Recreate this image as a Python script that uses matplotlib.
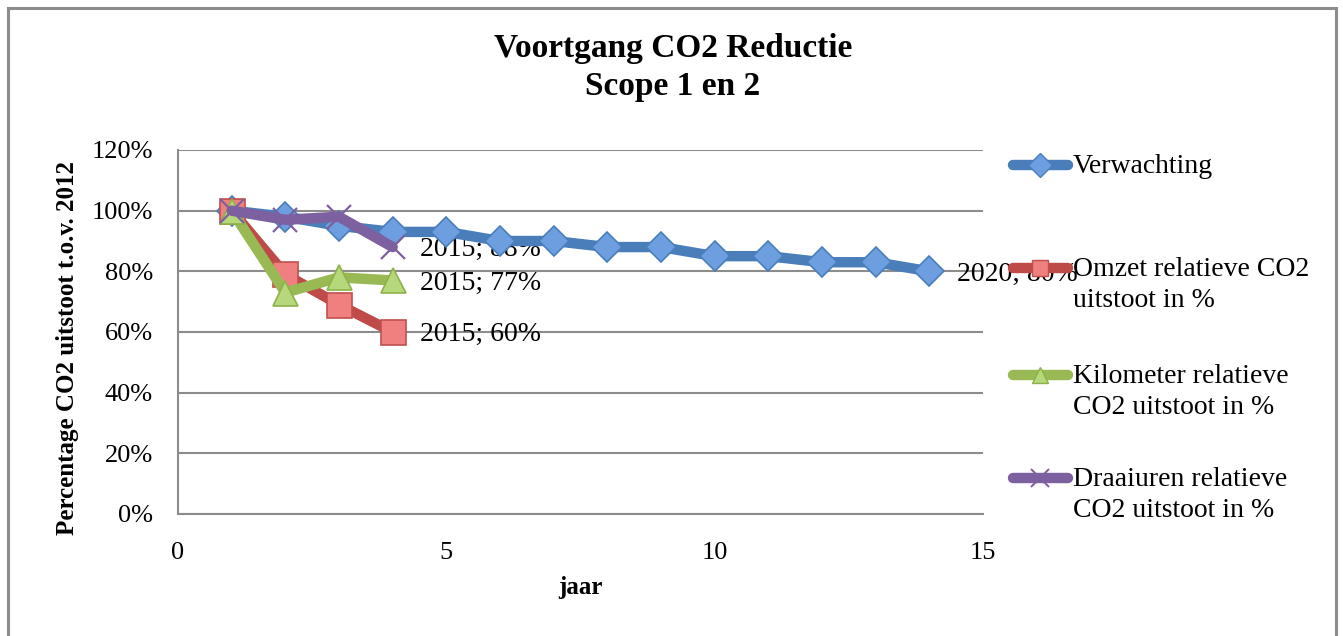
import matplotlib.pyplot as plt
import numpy as np
from matplotlib.lines import Line2D
from matplotlib.patches import Rectangle

# jaar index (1 = 2012)
x_verw = np.arange(1, 15)
verwachting = [100, 98, 95, 93, 93, 90, 90, 88, 88, 85, 85, 83, 83, 80]
x_kort = np.arange(1, 5)
omzet = [100, 79, 69, 60]
kilometer = [100, 73, 78, 77]
draaiuren = [100, 97, 98, 88]
eind_jaar = [2020, 2015, 2015, 2015]

labels = ['Verwachting', 'Omzet relatieve CO2\nuitstoot in %',
          'Kilometer relatieve\nCO2 uitstoot in %', 'Draaiuren relatieve\nCO2 uitstoot in %']

plt.rcParams['font.family'] = ['Liberation Serif', 'DejaVu Serif']

W, H = 1343, 636
fig = plt.figure(figsize=(W / 100, H / 100), dpi=100)
ax = fig.add_axes([178 / W, 1 - 514 / H, 805 / W, 364 / H])

# border around the chart
fig.add_artist(Rectangle((8 / W, -0.05), 1328 / W, 1.05 - 8 / H, transform=fig.transFigure,
                         fill=False, edgecolor='#8c8c8c', linewidth=2.2))

series = [
    (x_verw, verwachting, '#4a7ebb', 'D', '#6d9fe0', '#4a7ebb', 15),
    (x_kort, omzet, '#be4b48', 's', '#f08080', '#c0504d', 18),
    (x_kort, kilometer, '#98b954', '^', '#b6d77a', '#8db24a', 18),
    (x_kort, draaiuren, '#7d60a0', 'x', '#7d60a0', '#7d60a0', 17),
]
for xs, ys, col, mk, fc, ec, ms in series:
    if mk == 'x':
        ax.plot(xs, ys, color=col, linewidth=7.5, marker=mk, markersize=ms,
                markeredgewidth=1.6, solid_capstyle='round', zorder=3)
    else:
        ax.plot(xs, ys, color=col, linewidth=7.5, marker=mk, markersize=ms,
                markerfacecolor=fc, markeredgecolor=ec, markeredgewidth=1.2,
                solid_capstyle='round', zorder=3)

ax.set_xlim(0, 15)
ax.set_ylim(0, 120)
ax.set_xticks([0, 5, 10, 15])
ax.set_yticks(np.arange(0, 121, 20))
ax.set_yticklabels([f'{v}%' for v in range(0, 121, 20)])
ax.tick_params(length=0, labelsize=19)
ax.tick_params(axis='x', pad=20)
ax.tick_params(axis='y', pad=18)
ax.grid(axis='y', color='#8c8c8c', linewidth=1.5)
ax.set_axisbelow(True)
for s in ['top', 'right']:
    ax.spines[s].set_visible(False)
for s in ['left', 'bottom']:
    ax.spines[s].set_color('#8c8c8c')
    ax.spines[s].set_linewidth(1.5)

ax.set_xlabel('jaar', fontsize=18, fontweight='bold', labelpad=9)
ax.set_ylabel('Percentage CO2 uitstoot t.o.v. 2012', fontsize=18, fontweight='bold')
ax.yaxis.set_label_coords((79 - 178) / 805, (514 - 348) / 364)

fig.text(673 / W, 1 - 49 / H, 'Voortgang CO2 Reductie', ha='center', va='center',
         fontsize=24, fontweight='bold')
fig.text(673 / W, 1 - 87 / H, 'Scope 1 en 2', ha='center', va='center',
         fontsize=24, fontweight='bold')

# data labels on last points
for xs, ys, jr in zip([x_verw, x_kort, x_kort, x_kort],
                      [verwachting, omzet, kilometer, draaiuren], eind_jaar):
    ax.annotate(f'{jr}; {ys[-1]}%', (xs[-1], ys[-1]), xytext=(20, -2),
                textcoords='offset points', ha='left', va='center', fontsize=20,
                zorder=2, annotation_clip=False)

# legend, drawn by hand so handles sit on the first text line
leg_y = [165, 268, 375, 478]
for (xs, ys, col, mk, fc, ec, ms), lab, yy in zip(series, labels, leg_y):
    yf = 1 - yy / H
    fig.add_artist(Line2D([1013 / W, 1068 / W], [yf, yf], transform=fig.transFigure,
                          color=col, linewidth=7.5, solid_capstyle='round', zorder=5))
    if mk == 'x':
        fig.add_artist(Line2D([1040 / W], [yf], transform=fig.transFigure, marker=mk,
                              markersize=13, color=col, markeredgewidth=1.4, zorder=6))
    else:
        fig.add_artist(Line2D([1040 / W], [yf], transform=fig.transFigure, marker=mk,
                              markersize=12, markerfacecolor=fc, markeredgecolor=ec,
                              markeredgewidth=1, zorder=6))
    fig.text(1073 / W, 1 - (yy - 11) / H, lab, ha='left', va='top', fontsize=20,
             linespacing=1.3)

fig.savefig('out.png', dpi=100)
